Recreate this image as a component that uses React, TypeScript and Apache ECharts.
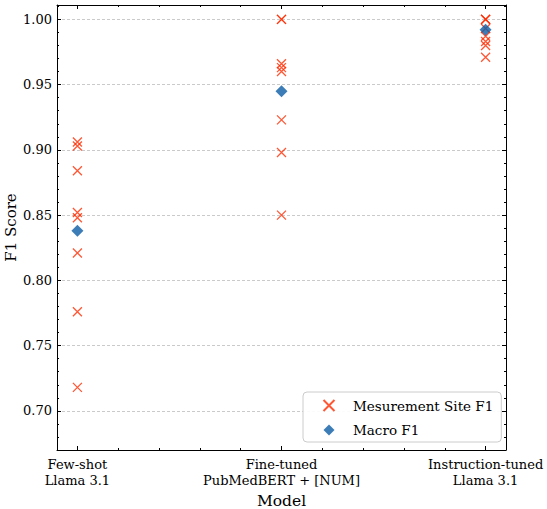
import React, { useEffect, useRef } from 'react';
import * as echarts from 'echarts';

const MODELS = ['Few-shot\nLlama 3.1', 'Fine-tuned\nPubMedBERT + [NUM]', 'Instruction-tuned\nLlama 3.1'];
const MODEL_POS = [0, 1, 2];

const FEW_SHOT_SITE = [0.906, 0.903, 0.884, 0.852, 0.848, 0.821, 0.776, 0.718];
const FINE_TUNED_SITE = [1.0, 1.0, 0.966, 0.963, 0.96, 0.923, 0.898, 0.85];
const INSTRUCT_SITE = [1.0, 1.0, 1.0, 0.993, 0.987, 0.983, 0.98, 0.971];
const MACRO_F1 = [0.838, 0.945, 0.992];

const Y_TICKS = [0.7, 0.75, 0.8, 0.85, 0.9, 0.95, 1.0];
const Y_MIN = 0.67;
const Y_MAX = 1.011;
const X_MIN = -0.1;
const X_MAX = 2.1;

const Y_MINOR: number[] = [];
for (let i = 67; i <= 101; i++) {
  if (i % 5 !== 0) Y_MINOR.push(i / 100);
}
const X_MINOR: number[] = [];
for (let i = 1; i < 10; i++) {
  if (i % 5 !== 0) X_MINOR.push(i / 5);
}

const FONT = 'DejaVu Serif';
const CROSS = 'path://M0,0L10,10M10,0L0,10';
const DIAMOND = 'path://M5,0L10,5L5,10L0,5Z';
const RED = '#FF2C00';
const BLUE = '#0C5DA5';

export default function App() {
  const ref = useRef<HTMLDivElement>(null);
  useEffect(() => {
    if (!ref.current) return;
    const chart = echarts.init(ref.current, null, { renderer: 'svg' });

    const siteData: number[][] = [];
    [FEW_SHOT_SITE, FINE_TUNED_SITE, INSTRUCT_SITE].forEach((arr, i) => {
      arr.forEach((v) => siteData.push([MODEL_POS[i], v]));
    });
    const macroData = MACRO_F1.map((v, i) => [MODEL_POS[i], v]);

    const frameLine = { show: true, onZero: false, lineStyle: { color: '#000', width: 1 } };
    const tickLine = { color: '#000', width: 1 };

    const xBase = { type: 'value', min: X_MIN, max: X_MAX, splitLine: { show: false } };
    const yBase = { type: 'value', min: Y_MIN, max: Y_MAX };

    const option: any = {
      animation: false,
      grid: { left: 57, right: 41, top: 5, bottom: 59, containLabel: false, outerBoundsMode: 'none' },
      legend: {
        orient: 'vertical',
        left: 303,
        top: 392,
        padding: [5.5, 8, 4.5, 18],
        itemWidth: 38,
        itemHeight: 11,
        itemGap: 9,
        symbolKeepAspect: true,
        borderColor: '#cccccc',
        borderWidth: 1,
        borderRadius: 4,
        backgroundColor: 'rgba(255,255,255,0.92)',
        textStyle: { fontFamily: FONT, fontSize: 13.5, color: '#000', lineHeight: 15 },
        data: ['Mesurement Site F1', 'Macro F1'],
      },
      xAxis: [
        {
          ...xBase,
          position: 'bottom',
          axisLine: frameLine,
          axisTick: { show: true, inside: true, length: 4, customValues: MODEL_POS, lineStyle: tickLine },
          axisLabel: {
            show: true,
            customValues: MODEL_POS,
            formatter: (v: number) => MODELS[Math.round(v)],
            fontFamily: FONT,
            fontSize: 13,
            lineHeight: 16,
            color: '#000',
            margin: 6,
          },
          name: 'Model',
          nameLocation: 'middle',
          nameGap: 42,
          nameTextStyle: { fontFamily: FONT, fontSize: 15.5, color: '#000' },
        },
        {
          ...xBase,
          position: 'bottom',
          axisLine: { show: false, onZero: false },
          axisTick: { show: true, inside: true, length: 2, customValues: X_MINOR, lineStyle: tickLine },
          axisLabel: { show: false },
        },
        {
          ...xBase,
          position: 'top',
          axisLine: frameLine,
          axisTick: { show: true, inside: true, length: 4, customValues: MODEL_POS, lineStyle: tickLine },
          axisLabel: { show: false },
        },
        {
          ...xBase,
          position: 'top',
          axisLine: { show: false, onZero: false },
          axisTick: { show: true, inside: true, length: 2, customValues: X_MINOR, lineStyle: tickLine },
          axisLabel: { show: false },
        },
      ],
      yAxis: [
        {
          ...yBase,
          position: 'left',
          axisLine: frameLine,
          axisTick: { show: true, inside: true, length: 4, customValues: Y_TICKS, lineStyle: tickLine },
          axisLabel: {
            show: true,
            customValues: Y_TICKS,
            formatter: (v: number) => v.toFixed(2),
            fontFamily: FONT,
            fontSize: 13,
            color: '#000',
            margin: 5,
          },
          splitLine: { show: true, lineStyle: { color: '#bdbdbd', width: 0.8, type: [3, 2] } },
          name: 'F1 Score',
          nameLocation: 'middle',
          nameGap: 38.5,
          nameMoveOverlap: false,
          nameTextStyle: { fontFamily: FONT, fontSize: 15, color: '#000' },
        },
        {
          ...yBase,
          position: 'left',
          axisLine: { show: false, onZero: false },
          axisTick: { show: true, inside: true, length: 2, customValues: Y_MINOR, lineStyle: tickLine },
          axisLabel: { show: false },
          splitLine: { show: false },
        },
        {
          ...yBase,
          position: 'right',
          axisLine: frameLine,
          axisTick: { show: true, inside: true, length: 4, customValues: Y_TICKS, lineStyle: tickLine },
          axisLabel: { show: false },
          splitLine: { show: false },
        },
        {
          ...yBase,
          position: 'right',
          axisLine: { show: false, onZero: false },
          axisTick: { show: true, inside: true, length: 2, customValues: Y_MINOR, lineStyle: tickLine },
          axisLabel: { show: false },
          splitLine: { show: false },
        },
      ],
      series: [
        {
          name: 'Mesurement Site F1',
          type: 'scatter',
          xAxisIndex: 0,
          yAxisIndex: 0,
          symbol: CROSS,
          symbolSize: 9,
          symbolKeepAspect: true,
          itemStyle: { color: 'none', borderColor: RED, borderWidth: 1.3 },
          data: siteData,
          z: 2,
        },
        {
          name: 'Macro F1',
          type: 'scatter',
          xAxisIndex: 0,
          yAxisIndex: 0,
          symbol: DIAMOND,
          symbolSize: 12,
          symbolKeepAspect: true,
          itemStyle: { color: BLUE },
          data: macroData,
          z: 3,
        },
      ],
    };

    chart.setOption(option);
    return () => chart.dispose();
  }, []);

  return (
    <div
      ref={ref}
      style={{ position: 'absolute', left: 0, top: 0, width: 547, height: 509, background: '#fff' }}
    />
  );
}
